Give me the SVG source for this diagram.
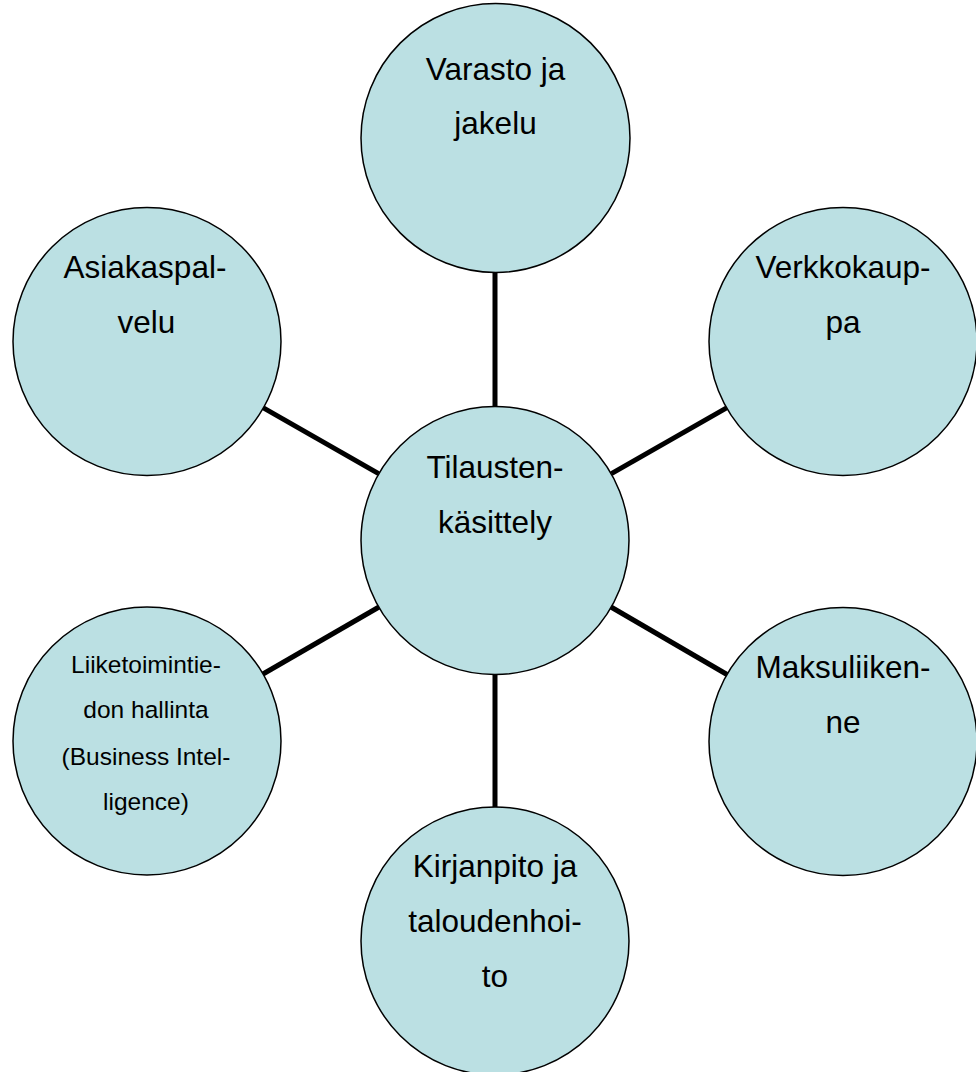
<svg xmlns="http://www.w3.org/2000/svg" width="976" height="1072" viewBox="0 0 976 1072">
<style>
.n{fill:#BBE0E3;stroke:#000;stroke-width:1.5}
.t{font-family:"Liberation Sans",Arial,sans-serif;font-size:31.5px;fill:#000;text-anchor:middle}
.s{font-size:24.5px}
.c{stroke:#000;stroke-width:5;fill:none}
</style>
<rect width="976" height="1072" fill="#fff"/>
<g id="connectors">
<line class="c" x1="495" y1="272" x2="495" y2="406"/>
<line class="c" x1="495" y1="674" x2="495" y2="807"/>
<line class="c" x1="378.6" y1="473.6" x2="263.4" y2="407.9"/>
<line class="c" x1="611.4" y1="473.6" x2="726.6" y2="407.9"/>
<line class="c" x1="379" y1="607" x2="263" y2="674"/>
<line class="c" x1="611" y1="607" x2="727" y2="674.5"/>
</g>
<g id="varasto">
<circle class="n" cx="495.5" cy="138" r="134.5"/>
<text class="t" x="495.5" y="80">Varasto ja</text>
<text class="t" x="495.5" y="134">jakelu</text>
</g>
<g id="tilaustenkasittely">
<circle class="n" cx="495" cy="540.5" r="134"/>
<text class="t" x="495" y="478">Tilausten-</text>
<text class="t" x="495" y="533">käsittely</text>
</g>
<g id="kirjanpito">
<circle class="n" cx="495" cy="941" r="134"/>
<text class="t" x="495" y="877">Kirjanpito ja</text>
<text class="t" x="495" y="932">taloudenhoi-</text>
<text class="t" x="495" y="987">to</text>
</g>
<g id="asiakaspalvelu">
<circle class="n" cx="147" cy="341.5" r="134"/>
<text class="t" x="145" y="278">Asiakaspal-</text>
<text class="t" x="146.5" y="333">velu</text>
</g>
<g id="verkkokauppa">
<circle class="n" cx="843" cy="341.5" r="134"/>
<text class="t" x="843" y="278">Verkkokaup-</text>
<text class="t" x="843" y="333">pa</text>
</g>
<g id="liiketoimintatiedonhallinta">
<circle class="n" cx="147" cy="741" r="134"/>
<text class="t s" x="146" y="673">Liiketoimintie-</text>
<text class="t s" x="146" y="718">don hallinta</text>
<text class="t s" x="146" y="765">(Business Intel-</text>
<text class="t s" x="146" y="810">ligence)</text>
</g>
<g id="maksuliikenne">
<circle class="n" cx="843" cy="741.5" r="134"/>
<text class="t" x="843" y="678">Maksuliiken-</text>
<text class="t" x="843" y="733">ne</text>
</g>
</svg>
